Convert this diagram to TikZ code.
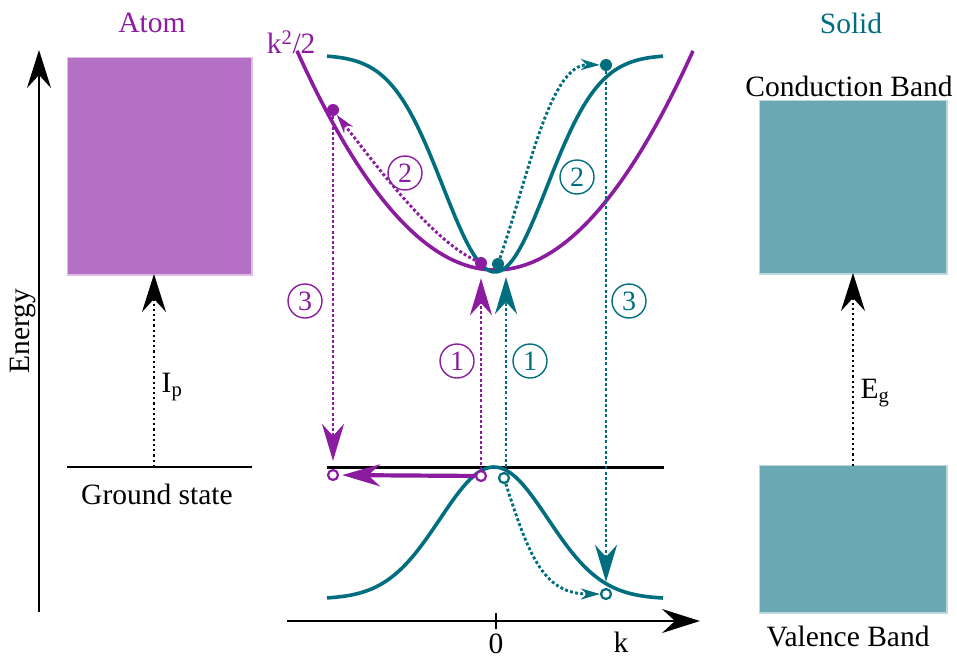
\documentclass[tikz,border=0pt]{standalone}
\usepackage{fontspec}
\setmainfont{Liberation Serif}
\usetikzlibrary{arrows.meta}
\definecolor{atomcol}{RGB}{139,28,160}
\definecolor{atomfill}{RGB}{179,112,196}
\definecolor{solidcol}{RGB}{0,110,127}
\definecolor{solidfill}{RGB}{106,168,180}

\begin{document}
\begin{tikzpicture}[x=1pt, y=-1pt,
  every node/.style={font=\fontsize{29.5}{34}\selectfont},
  band/.style={line width=3.6pt},
  dotpath/.style={line width=2.9pt, dash pattern=on 2.9pt off 2.3pt},
  bigtip/.style={-{Stealth[length=37pt, width=22pt, inset=12pt]}},
  smalltip/.style={-{Stealth[length=19pt, width=11pt, inset=6pt]}},
  axis/.style={line width=2.5pt, -{Stealth[length=38pt, width=24pt, inset=13pt]}},
  ball/.style={circle, fill=#1, inner sep=0pt, minimum size=12pt},
  hole/.style={circle, draw=#1, fill=white, line width=2.2pt, inner sep=0pt, minimum size=10pt},
  numcirc/.style={circle, draw=#1, text=#1, line width=1.4pt, inner sep=0pt,
    minimum size=34pt, font=\fontsize{28}{28}\selectfont},
  blurbox/.style={fill=#1, draw=#1, draw opacity=0.45, line width=3pt, inner sep=0pt, outer sep=0pt}]
  \useasboundingbox (0,0) rectangle (957,661);

  % atom side
  \draw[axis] (39,612) -- (39,50);
  \node[rotate=90] (energy) at (23,331) {Energy};
  \node[text=atomcol] (atom) at (152,23) {Atom};
  \node[blurbox=atomfill, minimum width=183pt, minimum height=216pt] (atomBox) at (159.5,166) {};
  \draw[line width=2.5pt] (67,467) coordinate (gsL) -- (252,467) coordinate (gsR);
  \coordinate (gsMid) at (154,467);
  \node (gsText) at (157,494) {Ground state};
  \draw[dash pattern=on 2.2pt off 3pt, axis, line width=2.2pt] (gsMid) -- (atomBox.south -| gsMid);
  \node (ip) at (172,387) {I\textsubscript{p}};

  % solid side
  \node[text=solidcol] (solid) at (851,23) {Solid};
  \node (cbText) at (849,86) {Conduction Band};
  \node[blurbox=solidfill, minimum width=186pt, minimum height=172pt] (cbBox) at (853,187) {};
  \node[blurbox=solidfill, minimum width=186pt, minimum height=146pt] (vbBox) at (853,539) {};
  \node (vbText) at (848,636) {Valence Band};
  \draw[dash pattern=on 2.2pt off 3pt, axis, line width=2.2pt] (vbBox.north) -- (cbBox.south);
  \node (eg) at (875,393) {E\textsubscript{g}};

  % k axis
  \draw[axis] (287,621) -- (700,621);
  \draw[line width=2.5pt] (496,613) -- (496,629);
  \node (zero) at (496,644) {0};
  \node (kk) at (621,642) {k};
  \draw[line width=3pt] (327,467) -- (664,467);

  % bands
  \draw[band, atomcol, domain=297:693, samples=90] plot (\x, {270-55.9*((\x-495)/100)^2});
  \node[text=atomcol, anchor=east] (kin) at (319,42) {k\textsuperscript{2}/2};
  \draw[band, solidcol, domain=327:663, samples=90] plot (\x, {55+217*exp(-0.5*((\x-495)/52)^2)});
  \draw[band, solidcol, domain=327:663, samples=90] plot (\x, {599-132*exp(-0.5*((\x-494)/54)^2)});

  % electrons and holes
  \node[ball=atomcol] (pC) at (481,263) {};
  \node[ball=solidcol] (tC) at (498,264) {};
  \node[ball=atomcol] (pTop) at (333,110) {};
  \node[ball=solidcol] (tTop) at (606,65) {};
  \node[hole=atomcol] (pV) at (481,476) {};
  \node[hole=atomcol] (pGS) at (333,475) {};
  \node[hole=solidcol] (tV) at (504,478) {};
  \node[hole=solidcol] (tVB) at (606,594) {};
  \coordinate (tOneA) at (506,467);
  \coordinate (tOneB) at (506,277);

  % step 1
  \draw[dotpath, atomcol, bigtip, shorten >=9pt] (pV) -- (pC);
  \draw[dotpath, solidcol, bigtip] (tOneA) -- (tOneB);
  \node[numcirc=atomcol] (pOne) at (457,361) {1};
  \node[numcirc=solidcol] (tOne) at (530,361) {1};
  % step 2
  \draw[dotpath, atomcol, smalltip] (pC) .. controls (432,240) and (378,168) .. (pTop);
  \draw[dotpath, solidcol, smalltip] (tC) .. controls (530,170) and (550,64) .. (tTop);
  \draw[dotpath, solidcol, smalltip] (tV) .. controls (530,560) and (545,594) .. (tVB);
  \node[numcirc=atomcol] (pTwo) at (405,173) {2};
  \node[numcirc=solidcol] (tTwo) at (577,177) {2};
  % step 3
  \draw[dotpath, atomcol, bigtip, shorten >=8pt] (pTop) -- (pGS);
  \draw[dotpath, solidcol, bigtip, shorten >=6pt] (tTop) -- (tVB);
  \draw[line width=4.2pt, atomcol, -{Stealth[length=38pt, width=22pt, inset=12pt]}, shorten >=3pt] (pV) -- (pGS);
  \node[numcirc=atomcol] (pThree) at (305,301) {3};
  \node[numcirc=solidcol] (tThree) at (629,301) {3};
\end{tikzpicture}
\end{document}
